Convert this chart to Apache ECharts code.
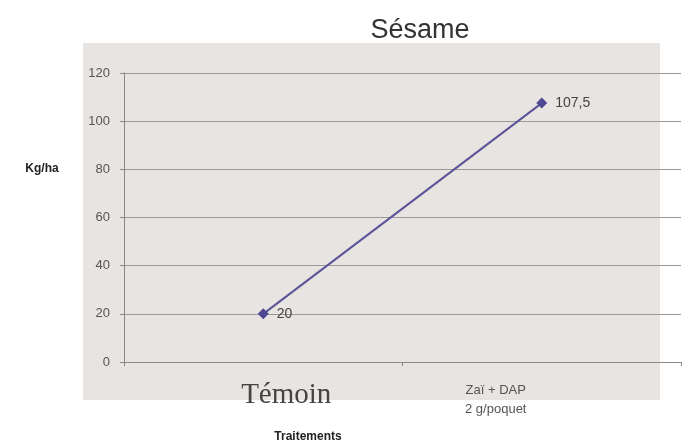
<!DOCTYPE html>
<html>
<head>
<meta charset="utf-8">
<script src="https://cdn.jsdelivr.net/npm/echarts@6/dist/echarts.min.js"></script>
<style>html,body{margin:0;padding:0;background:#fff}#c{width:683px;height:440px}</style>
</head>
<body>
<div id="c"></div>
<script>
var categories = ['Témoin', 'Zaï + DAP\n2 g/poquet'];
var values = [20, 107.5];
var yTicks = [0, 20, 40, 60, 80, 100, 120];

var chart = echarts.init(document.getElementById('c'), null, {renderer: 'canvas'});
chart.setOption({
  animation: false,
  backgroundColor: '#ffffff',
  graphic: [{
    type: 'rect', z: -10,
    shape: {x: 83, y: 43, width: 577, height: 357},
    style: {fill: '#e8e4e1'}
  }],
  title: [
    {text: 'Sésame', left: 415, top: 12, textAlign: 'center',
     textStyle: {fontFamily: 'Liberation Sans', fontSize: 27, fontWeight: 'normal', color: '#333'}},
    {text: 'Kg/ha', left: 37, top: 158, textAlign: 'center',
     textStyle: {fontFamily: 'Liberation Sans', fontSize: 12, fontWeight: 'bold', color: '#222'}},
    {text: 'Traitements', left: 303, top: 426, textAlign: 'center',
     textStyle: {fontFamily: 'Liberation Sans', fontSize: 12, fontWeight: 'bold', color: '#222'}}
  ],
  grid: {left: 124, right: 2, top: 73, bottom: 78, containLabel: false},
  xAxis: {
    type: 'category',
    data: categories,
    boundaryGap: true,
    axisLine: {lineStyle: {color: '#888', width: 1}},
    axisTick: {show: true, length: 4, lineStyle: {color: '#888'}},
    axisLabel: {
      margin: 19,
      interval: 0,
      formatter: function (v, i) {
        return i === 0 ? '{a|' + v + '}' : '{b|' + v.split('\n').join('}\n{b|') + '}';
      },
      rich: {
        a: {fontFamily: 'Liberation Serif', fontSize: 29, color: '#444', padding: [0, 0, 0, 46]},
        b: {fontFamily: 'Liberation Sans', fontSize: 13, color: '#555', lineHeight: 19, padding: [0, 92, 0, 0]}
      }
    }
  },
  yAxis: {
    type: 'value',
    min: 0, max: 120, interval: 20,
    axisLine: {show: true, lineStyle: {color: '#888', width: 1}},
    axisTick: {show: true, length: 4, lineStyle: {color: '#888'}},
    axisLabel: {margin: 14, fontFamily: 'Liberation Sans', fontSize: 13, color: '#555',
      formatter: function (v) { return yTicks.indexOf(v) >= 0 ? String(v) : ''; }},
    splitLine: {show: true, lineStyle: {color: '#999', width: 1}}
  },
  series: [{
    type: 'line',
    data: values,
    symbol: 'diamond',
    symbolSize: 11,
    itemStyle: {color: '#4e4892'},
    lineStyle: {color: '#5a5499', width: 2},
    label: {
      show: true, position: 'right', distance: 8,
      fontFamily: 'Liberation Sans', fontSize: 14, color: '#444',
      formatter: function (p) { return String(p.value).replace('.', ','); }
    }
  }]
});
</script>
</body>
</html>
